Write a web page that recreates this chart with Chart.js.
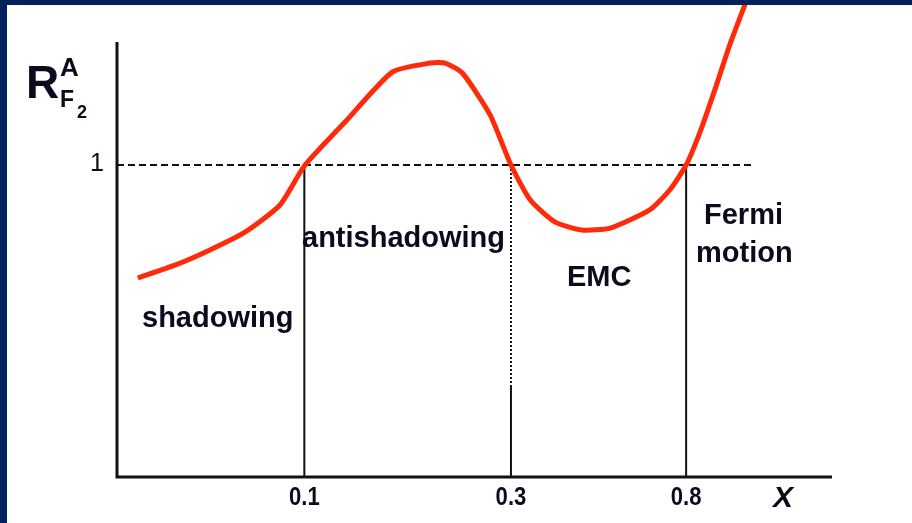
<!DOCTYPE html>
<html>
<head>
<meta charset="utf-8">
<script src="https://cdn.jsdelivr.net/npm/chart.js@4"></script>
<style>
  html, body { margin: 0; padding: 0; background: #00215e; width: 912px; height: 523px; overflow: hidden; }
  #box { position: absolute; left: 7px; top: 5px; width: 905px; height: 518px; background: #fff; }
</style>
</head>
<body>
<div id="box"><canvas id="ctx" width="905" height="518"></canvas></div>
<script>
// schematic x position (0..100 along the axis) and ratio R
const xPos = [2.9, 8.1, 13.0, 17.9, 22.8, 26.2, 31.9, 38.5, 43.8, 45.9, 48.3, 52.2, 55.1, 57.8, 61.3, 65.0, 69.0, 74.5, 77.3, 79.6, 81.5, 83.6, 85.7, 87.8, 88.8];
const rValues = [0.638, 0.679, 0.728, 0.785, 0.872, 0.997, 1.138, 1.298, 1.327, 1.327, 1.295, 1.160, 1.0, 0.888, 0.817, 0.792, 0.798, 0.856, 0.920, 1.0, 1.103, 1.240, 1.385, 1.513, 1.577];
const tickPos = [26.2, 55.1, 79.6];
const tickLabels = ['0.1', '0.3', '0.8'];
const regionNames = ['shadowing', 'antishadowing', 'EMC', 'Fermi', 'motion'];

const ink = '#0b0b1e';

const decor = {
  id: 'decor',
  beforeDatasetsDraw(chart) {
    const c = chart.ctx, x = chart.scales.x, y = chart.scales.y;
    const y0 = y.getPixelForValue(0), y1 = y.getPixelForValue(1);
    c.save();
    c.strokeStyle = '#111';
    // dashed line at R = 1
    c.lineWidth = 2;
    c.setLineDash([7, 4]);
    c.beginPath(); c.moveTo(x.getPixelForValue(0), y1); c.lineTo(x.getPixelForValue(89.2), y1); c.stroke();
    c.setLineDash([]);
    // verticals at the tick positions
    tickPos.forEach((p, i) => {
      const px = x.getPixelForValue(p);
      if (i === 1) {
        c.setLineDash([2, 2]);
        c.beginPath(); c.moveTo(px, y1); c.lineTo(px, y.getPixelForValue(0.295)); c.stroke();
        c.setLineDash([]);
        c.beginPath(); c.moveTo(px, y.getPixelForValue(0.295)); c.lineTo(px, y0); c.stroke();
      } else {
        c.beginPath(); c.moveTo(px, y1); c.lineTo(px, y0); c.stroke();
      }
    });
    // axes
    c.lineWidth = 3;
    c.beginPath();
    c.moveTo(x.getPixelForValue(0), y.getPixelForValue(1.394));
    c.lineTo(x.getPixelForValue(0), y0);
    c.lineTo(x.getPixelForValue(100), y0);
    c.stroke();
    c.restore();
  },
  afterDraw(chart) {
    const c = chart.ctx, x = chart.scales.x, y = chart.scales.y;
    const y0 = y.getPixelForValue(0);
    c.save();
    c.fillStyle = ink;
    c.textBaseline = 'middle';
    // tick labels, condensed like the original
    c.textAlign = 'center';
    c.font = 'bold 26px "Liberation Sans", sans-serif';
    tickPos.forEach((p, i) => {
      c.save();
      c.translate(x.getPixelForValue(p), y0 + 21);
      c.scale(0.85, 1);
      c.fillText(tickLabels[i], 0, 0);
      c.restore();
    });
    c.font = 'bold italic 30px "Liberation Sans", sans-serif';
    c.fillText('X', 776, y0 + 22);
    c.font = '25px "Liberation Sans", sans-serif';
    c.textAlign = 'right';
    c.fillText('1', 97, y.getPixelForValue(1) - 1);
    // y label R^A_F2
    c.textAlign = 'left';
    c.textBaseline = 'alphabetic';
    c.font = 'bold 46px "Liberation Sans", sans-serif';
    c.fillText('R', 19, 93);
    c.font = 'bold 26px "Liberation Sans", sans-serif';
    c.fillText('A', 53, 71);
    c.font = 'bold 23px "Liberation Sans", sans-serif';
    c.fillText('F', 53, 102);
    c.font = 'bold 18px "Liberation Sans", sans-serif';
    c.fillText('2', 70, 113);
    // region names
    c.font = 'bold 29px "Liberation Sans", sans-serif';
    c.textBaseline = 'middle';
    c.fillText(regionNames[0], 135, 314);
    c.fillText(regionNames[1], 295, 234);
    c.fillText(regionNames[2], 560, 273);
    c.fillText(regionNames[3], 697, 211);
    c.fillText(regionNames[4], 689, 249);
    c.restore();
  }
};

const chart = new Chart(document.getElementById('ctx'), {
  type: 'line',
  data: {
    datasets: [{
      data: xPos.map((v, i) => ({ x: v, y: rValues[i] })),
      borderColor: '#ff2a0a',
      borderWidth: 5,
      pointRadius: 0,
      tension: 0.2,
      fill: false
    }]
  },
  options: {
    responsive: false,
    animation: false,
    layout: { padding: { left: 110, right: 80, top: 0, bottom: 46 } },
    plugins: { legend: { display: false }, tooltip: { enabled: false } },
    scales: {
      x: { type: 'linear', min: 0, max: 100, display: false },
      y: { type: 'linear', min: 0, max: 1.513, display: false }
    }
  },
  plugins: [decor]
});
</script>
</body>
</html>
